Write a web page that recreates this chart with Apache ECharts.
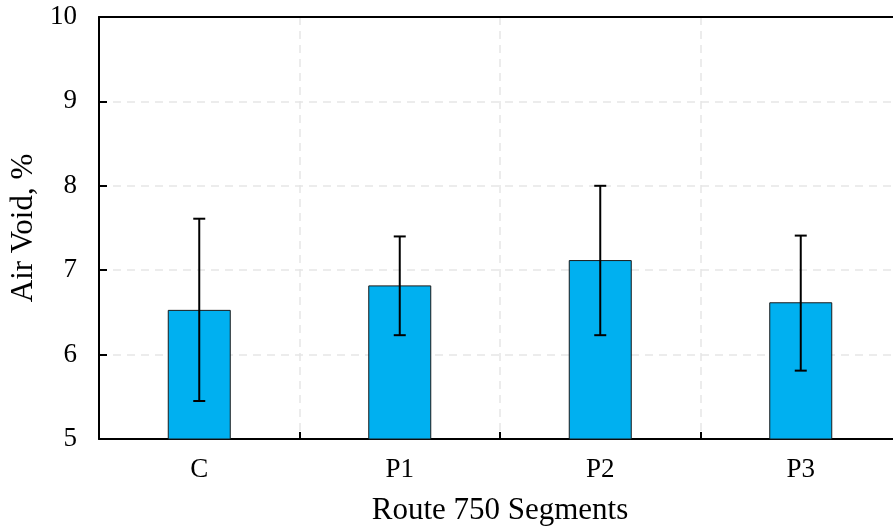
<!DOCTYPE html>
<html>
<head>
<meta charset="utf-8">
<script src="https://cdn.jsdelivr.net/npm/echarts@6/dist/echarts.min.js"></script>
<style>html,body{margin:0;padding:0;background:#fff;overflow:hidden;}#c{width:912px;height:531px;}</style>
</head>
<body>
<div id="c"></div>
<script>
var categories = ['C', 'P1', 'P2', 'P3'];
var meanValues = [6.53, 6.82, 7.12, 6.62];
var errLow = [5.45, 6.23, 6.23, 5.81];
var errHigh = [7.61, 7.40, 8.00, 7.41];
var yTicks = [5, 6, 7, 8, 9, 10];

var font = '"Liberation Serif", "Times New Roman", serif';
var chart = echarts.init(document.getElementById('c'));
var errData = categories.map(function (c, i) { return [i, errLow[i], errHigh[i]]; });
var gridLine = { show: true, showMinLine: false, showMaxLine: false, lineStyle: { color: '#e6e6e6', type: [8, 6], width: 1.5 } };

chart.setOption({
  animation: false,
  grid: { left: 99, top: 17, width: 802, height: 423 },
  xAxis: [{
    type: 'category',
    data: categories,
    name: 'Route 750 Segments',
    nameLocation: 'middle',
    nameGap: 56,
    nameTextStyle: { fontFamily: font, fontSize: 31, color: '#000' },
    axisLine: { lineStyle: { color: '#000', width: 2 } },
    axisTick: { show: true, inside: true, length: 7, lineStyle: { color: '#000', width: 2 } },
    axisLabel: { fontFamily: font, fontSize: 27, color: '#000', margin: 17 },
    splitLine: gridLine
  }, {
    type: 'category',
    data: categories,
    position: 'top',
    axisLine: { show: true, lineStyle: { color: '#000', width: 2 } },
    axisTick: { show: false },
    axisLabel: { show: false },
    splitLine: { show: false }
  }],
  yAxis: {
    type: 'value',
    min: yTicks[0],
    max: yTicks[yTicks.length - 1],
    interval: 1,
    name: 'Air Void, %',
    nameLocation: 'middle',
    nameGap: 51,
    nameTextStyle: { fontFamily: font, fontSize: 31, color: '#000' },
    axisLine: { show: true, lineStyle: { color: '#000', width: 2 } },
    axisTick: { show: true, inside: true, length: 8, lineStyle: { color: '#000', width: 2 } },
    axisLabel: { fontFamily: font, fontSize: 27, color: '#000', margin: 22 },
    splitLine: gridLine
  },
  series: [
    {
      type: 'bar',
      data: meanValues,
      barWidth: 63,
      itemStyle: { color: '#00B0F0', borderColor: '#1a1a1a', borderWidth: 1 }
    },
    {
      type: 'custom',
      data: errData,
      z: 10,
      renderItem: function (params, api) {
        var x = api.value(0);
        var lo = api.coord([x, api.value(1)]);
        var hi = api.coord([x, api.value(2)]);
        var hw = 6;
        var st = { stroke: '#000', lineWidth: 2 };
        return {
          type: 'group',
          children: [
            { type: 'line', shape: { x1: lo[0], y1: lo[1], x2: hi[0], y2: hi[1] }, style: st },
            { type: 'line', shape: { x1: lo[0] - hw, y1: lo[1], x2: lo[0] + hw, y2: lo[1] }, style: st },
            { type: 'line', shape: { x1: hi[0] - hw, y1: hi[1], x2: hi[0] + hw, y2: hi[1] }, style: st }
          ]
        };
      }
    }
  ]
});
</script>
</body>
</html>
